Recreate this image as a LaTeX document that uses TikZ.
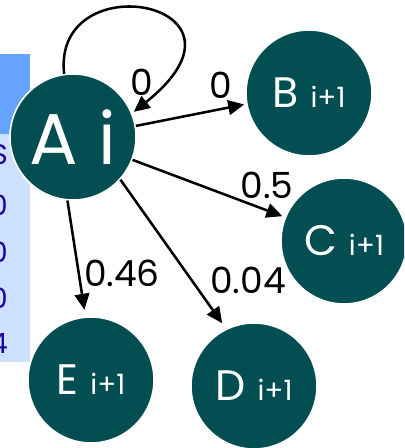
\documentclass[tikz,border=0pt]{standalone}
\usepackage{fontspec}
\setmainfont{Poppins}
\usetikzlibrary{arrows.meta}
\definecolor{nodeteal}{RGB}{3,78,82}
\definecolor{paneltop}{RGB}{102,163,255}
\definecolor{panelbody}{RGB}{204,224,255}
\definecolor{paneltext}{RGB}{34,0,160}
\newcommand{\nxt}[1]{{\fontsize{32}{32}\selectfont #1}\hspace{9pt}{\fontsize{21}{21}\selectfont i+1}}
\begin{document}
\begin{tikzpicture}[x=0.75pt,y=-0.75pt,
  state/.style={circle, fill=nodeteal, draw=white, line width=1.2pt,
    minimum size=94.5pt, inner sep=0pt, text=white},
  edgelbl/.style={font=\fontsize{27}{27}\selectfont, text=black, inner sep=0pt},
  paneltxt/.style={font=\fontsize{21}{21}\selectfont, text=paneltext, inner sep=0pt, anchor=east},
  conn/.style={line width=1.9pt, -{Triangle[length=12pt,width=11pt]}}]
\useasboundingbox (0,0) rectangle (404,448);
\clip (0,0) rectangle (404,448);
% partial panel on the left
\fill[paneltop] (0,54) rectangle (30,134);
\fill[panelbody] (0,134) rectangle (30,362);
\node[paneltxt] (p1) at (8,155) {S};
\node[paneltxt] (p2) at (8,205) {0};
\node[paneltxt] (p3) at (8,252) {0};
\node[paneltxt] (p4) at (8,298) {0};
\node[paneltxt] (p5) at (8,343) {4};
% states
\node[state] (A) at (73,137) {\fontsize{54}{54}\selectfont A\hspace{15pt}i};
\node[state] (B) at (309,93) {\nxt{B}};
\node[state] (C) at (344,241) {\nxt{C}};
\node[state] (D) at (254,386) {\nxt{D}};
\node[state] (E) at (91,380) {\nxt{E}};
% connectors
\draw[conn, shorten >=1.5pt] (A.98) .. controls (52,-38) and (272,2) .. (A.22.6);
\draw[conn, shorten >=1.5pt] (A.10.5) -- (B.190.6);
\draw[conn, shorten >=2pt] (A.-21.5) -- (C.158.5);
\draw[conn, shorten >=5pt] (A.-42) -- (D.116);
\draw[conn, shorten >=5pt] (A.265.3) -- (E.95.7);
% labels
\node[edgelbl] (l1) at (142,82) {0};
\node[edgelbl] (l2) at (221,85) {0};
\node[edgelbl] (l3) at (267,185) {0.5};
\node[edgelbl] (l4) at (122,273) {0.46};
\node[edgelbl] (l5) at (248,280) {0.04};
\end{tikzpicture}
\end{document}
